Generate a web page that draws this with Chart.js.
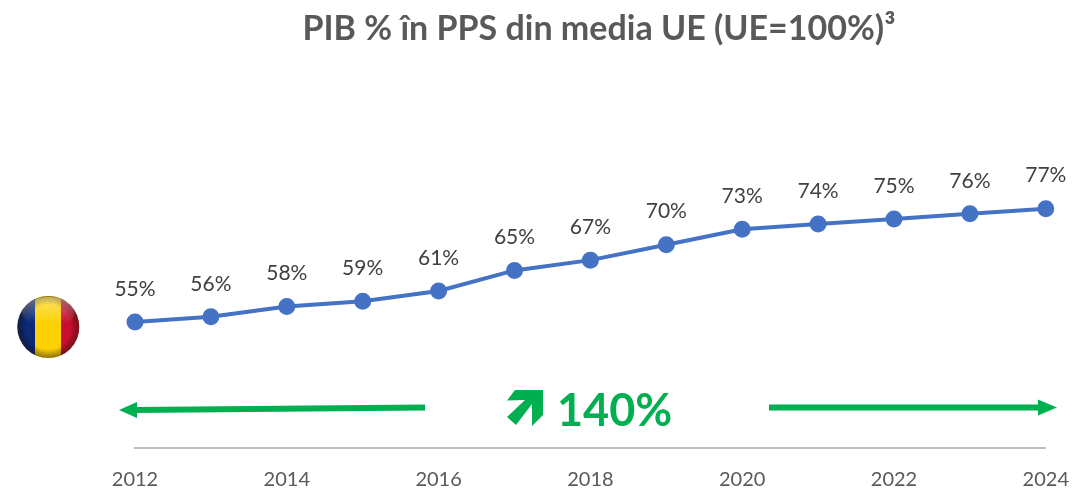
<!DOCTYPE html>
<html><head><meta charset="utf-8">
<style>html,body{margin:0;padding:0;background:#fff}#w{position:relative;width:1089px;height:489px;overflow:hidden}
canvas{position:absolute;left:0;top:0}</style>
<script src="https://cdn.jsdelivr.net/npm/chart.js@4"></script></head>
<body><div id="w"><canvas id="c" width="1089" height="489"></canvas></div>
<script>
const years=["2012","2013","2014","2015","2016","2017","2018","2019","2020","2021","2022","2023","2024"];
const values=[55,56,58,59,61,65,67,70,73,74,75,76,77];
const title='PIB % în PPS din media UE (UE=100%)³';
const growth='140%';
const overlay={id:'overlay',afterDraw(ch){
 const c=ch.ctx;const x=ch.scales.x,y=ch.scales.y;
 c.save();
 c.fillStyle='#404040';c.font='21px Lato';c.textAlign='center';c.textBaseline='middle';
 values.forEach((v,i)=>c.fillText(v+'%',x.getPixelForValue(i),y.getPixelForValue(v)-33));
 c.fillStyle='#595959';c.font='bold 34px Lato';c.textAlign='center';
 c.fillText(title,599,29);
 c.strokeStyle='#00B050';c.fillStyle='#00B050';c.lineWidth=6;
 c.beginPath();c.moveTo(425,407.5);c.lineTo(134,410);c.stroke();
 c.beginPath();c.moveTo(119,410);c.lineTo(137,402);c.lineTo(137,418);c.fill();
 c.beginPath();c.moveTo(769,407.5);c.lineTo(1042,407.5);c.stroke();
 c.beginPath();c.moveTo(1057,407.5);c.lineTo(1038,399.5);c.lineTo(1038,415.5);c.fill();
 c.font='bold 45px Lato';c.textAlign='left';c.fillText(growth,557,411);
 c.beginPath();c.moveTo(515,390);c.lineTo(543,390);c.lineTo(543,415);c.lineTo(532,426);c.lineTo(532,404);c.lineTo(516,425);c.lineTo(507,417);c.lineTo(525,400);c.lineTo(507,400.5);c.closePath();c.fill();
 const cx=48.3,cy=327,r=31;
 c.beginPath();c.arc(cx,cy,r,0,Math.PI*2);c.clip();
 c.fillStyle='#0b2a78';c.fillRect(17,cy-r,18,2*r);
 c.fillStyle='#fdd106';c.fillRect(35,cy-r,26,2*r);
 c.fillStyle='#c8102e';c.fillRect(61,cy-r,19,2*r);
 const g=c.createRadialGradient(cx,cy,r*0.72,cx,cy,r);
 g.addColorStop(0,'rgba(0,0,0,0)');g.addColorStop(1,'rgba(40,20,0,.5)');
 c.fillStyle=g;c.fillRect(cx-r,cy-r,2*r,2*r);
 const h=c.createLinearGradient(0,cy-r,0,cy-4);
 h.addColorStop(0,'rgba(255,255,255,.4)');h.addColorStop(1,'rgba(255,255,255,0)');
 c.fillStyle=h;c.beginPath();c.ellipse(cx,cy-15,r*0.85,15,0,0,Math.PI*2);c.fill();
 c.restore();
}};
new Chart(document.getElementById('c'),{
 type:'line',
 data:{labels:years,datasets:[{data:values,borderColor:'#4472C4',backgroundColor:'#4472C4',borderWidth:4,pointRadius:6.5,pointHoverRadius:6.5,tension:0}]},
 plugins:[overlay],
 options:{responsive:false,animation:false,
  layout:{padding:{left:135,right:29,top:0,bottom:0}},
  plugins:{legend:{display:false},tooltip:{enabled:false}},
  scales:{
   x:{position:'bottom',offset:false,grid:{display:false,drawTicks:false},border:{color:'#BFBFBF',width:2},
      ticks:{autoSkip:false,maxRotation:0,padding:20,color:'#595959',font:{family:'Lato',size:20},
        callback(v,i){return i%2===0?years[i]:'';}},
      afterFit(s){s.height=41;}},
   y:{display:false,min:30.5,max:115.5}
  }
 }
});
</script></body></html>
